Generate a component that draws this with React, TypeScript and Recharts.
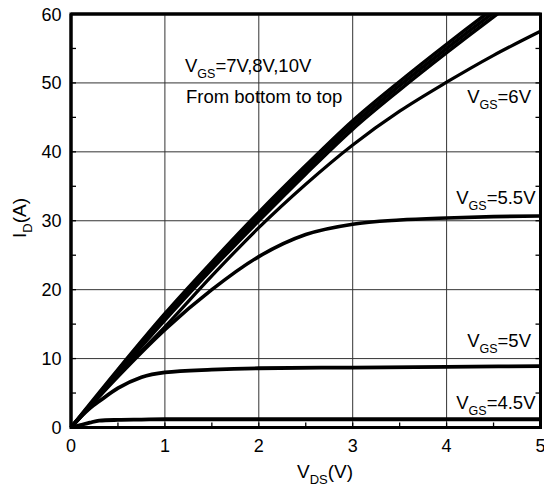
import React from 'react';
import { LineChart, Line, XAxis, YAxis, ReferenceLine, ReferenceArea } from 'recharts';

// V_DS sample points (V)
const vdsLow = [0, 0.1, 0.2, 0.3, 0.5, 0.75, 1, 1.5, 2, 3, 4, 5];
const vdsHigh = [0, 0.5, 1, 1.5, 2, 2.5, 3, 3.5, 4, 4.5, 5];

// I_D (A) for each V_GS
const id45 = [0, 0.35, 0.7, 1.0, 1.1, 1.15, 1.2, 1.2, 1.2, 1.2, 1.2, 1.2];
const id5 = [0, 1.5, 2.8, 3.8, 5.7, 7.3, 8.0, 8.4, 8.6, 8.7, 8.8, 8.9];
const id55 = [0, 7.4, 14.2, 20.0, 24.8, 28.0, 29.5, 30.1, 30.4, 30.6, 30.7];
const id6 = [0, 7.6, 14.6, 22.0, 29.0, 35.3, 41.0, 45.9, 50.1, 54.0, 57.5];
const id7 = [0, 7.9, 15.6, 23.0, 30.0, 36.8, 43.3, 49.0, 54.4, 59.6, 64.6];
const id8 = [0, 8.1, 16.0, 23.5, 30.6, 37.4, 43.9, 49.6, 55.0, 60.2, 65.2];
const id10 = [0, 8.4, 16.5, 24.0, 31.2, 38.0, 44.5, 50.2, 55.6, 60.8, 65.8];

const xMajor = [1, 2, 3, 4];
const yMajor = [10, 20, 30, 40, 50];
const xMinor = [0, 0.5, 1, 1.5, 2, 2.5, 3, 3.5, 4, 4.5, 5];
const yMinor = [0, 5, 10, 15, 20, 25, 30, 35, 40, 45, 50, 55, 60];

const zip = (xs: number[], ys: number[]) => xs.map((v, i) => ({ v, i: ys[i] }));

const series = [
  { name: '4.5V', data: zip(vdsLow, id45), w: 3.8 },
  { name: '5V', data: zip(vdsLow, id5), w: 3.8 },
  { name: '5.5V', data: zip(vdsHigh, id55), w: 3.6 },
  { name: '6V', data: zip(vdsHigh, id6), w: 3.2 },
  { name: '7V', data: zip(vdsHigh, id7), w: 3.6 },
  { name: '8V', data: zip(vdsHigh, id8), w: 3.6 },
  { name: '10V', data: zip(vdsHigh, id10), w: 3.6 },
];

const FONT = '"Liberation Sans", Arial, sans-serif';

const XTick = (p: any) => {
  const v = p.payload.value;
  if (!Number.isInteger(v)) return <g />;
  return (
    <text x={p.x} y={p.y} dy={29.5} textAnchor="middle" fontSize={18} fontFamily={FONT} fill="#000">
      {v}
    </text>
  );
};

const YTick = (p: any) => {
  const v = p.payload.value;
  if (v % 10 !== 0) return <g />;
  return (
    <text x={p.x} y={p.y} dx={-14.5} dy={6.5} textAnchor="end" fontSize={18} fontFamily={FONT} fill="#000">
      {v}
    </text>
  );
};

const NoTick = () => <g />;

const Vgs = ({ x, y, value, anchor = 'end' }: { x: number; y: number; value: string; anchor?: string }) => (
  <text x={x} y={y} textAnchor={anchor as any} fontSize={18.5} fontFamily={FONT} fill="#000">
    V
    <tspan dy={6} fontSize={12.5}>GS</tspan>
    <tspan dy={-6}>={value}</tspan>
  </text>
);

const tickStyle = { stroke: '#000', strokeWidth: 1.3 };
const borderStyle = { stroke: '#000', strokeWidth: 3 };

export default function App() {
  return (
    <div style={{ position: 'absolute', left: 0, top: 0, width: 544, height: 493 }}>
      <LineChart width={544} height={493} margin={{ top: 13, right: 2.5, bottom: 0, left: 0 }}>
        {xMajor.map((v) => (
          <ReferenceLine key={'gx' + v} x={v} stroke="#333" strokeWidth={1} />
        ))}
        {yMajor.map((v) => (
          <ReferenceLine key={'gy' + v} y={v} stroke="#333" strokeWidth={1} />
        ))}
        <XAxis
          dataKey="v"
          type="number"
          domain={[0, 5]}
          ticks={xMinor}
          interval={0}
          height={65.5}
          tickSize={-5}
          tickMargin={0}
          tick={XTick}
          tickLine={tickStyle}
          axisLine={borderStyle}
        />
        <XAxis
          xAxisId="top"
          orientation="top"
          dataKey="v"
          type="number"
          domain={[0, 5]}
          ticks={xMinor}
          interval={0}
          height={1}
          tickSize={-5}
          tickMargin={0}
          tick={NoTick}
          tickLine={tickStyle}
          axisLine={borderStyle}
        />
        <YAxis
          type="number"
          domain={[0, 60]}
          allowDataOverflow
          ticks={yMinor}
          interval={0}
          width={71}
          tickSize={-5}
          tickMargin={0}
          tick={YTick}
          tickLine={tickStyle}
          axisLine={borderStyle}
        />
        <YAxis
          yAxisId="right"
          orientation="right"
          type="number"
          domain={[0, 60]}
          allowDataOverflow
          ticks={yMinor}
          interval={0}
          width={1}
          tickSize={-5}
          tickMargin={0}
          tick={NoTick}
          tickLine={tickStyle}
          axisLine={borderStyle}
        />
        {series.map((s) => (
          <Line
            key={s.name}
            data={s.data}
            dataKey="i"
            type="monotone"
            stroke="#000"
            strokeWidth={s.w}
            dot={false}
            activeDot={false}
            isAnimationActive={false}
          />
        ))}
        <ReferenceArea
          x1={0}
          x2={5}
          y1={0}
          y2={60}
          fill="none"
          fillOpacity={0}
          stroke="#000"
          strokeWidth={3}
          ifOverflow="visible"
        />
      </LineChart>
      <svg
        width={544}
        height={493}
        style={{ position: 'absolute', left: 0, top: 0, pointerEvents: 'none' }}
      >
        <Vgs x={185} y={72} value="7V,8V,10V" anchor="start" />
        <text x={186} y={103} fontSize={18.5} fontFamily={FONT} fill="#000">
          From bottom to top
        </text>
        <Vgs x={531} y={103} value="6V" />
        <Vgs x={535.5} y={204} value="5.5V" />
        <Vgs x={531} y={347} value="5V" />
        <Vgs x={535.5} y={409} value="4.5V" />
        <text x={297} y={478} fontSize={19} fontFamily={FONT} fill="#000">
          V<tspan dy={6} fontSize={13}>DS</tspan>
          <tspan dy={-6}>(V)</tspan>
        </text>
        <text
          x={26}
          y={218}
          transform="rotate(-90 26 218)"
          textAnchor="middle"
          fontSize={19}
          fontFamily={FONT}
          fill="#000"
        >
          I<tspan dy={6} fontSize={13}>D</tspan>
          <tspan dy={-6}>(A)</tspan>
        </text>
      </svg>
    </div>
  );
}
